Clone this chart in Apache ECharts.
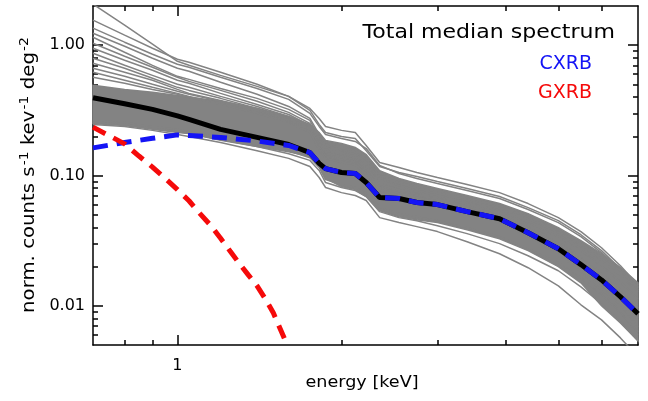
<!DOCTYPE html>
<html>
<head>
<meta charset="utf-8">
<script src="https://cdn.jsdelivr.net/npm/echarts@6/dist/echarts.min.js"></script>
<style>
  html, body { margin: 0; padding: 0; background: #fff; }
  #chart { width: 648px; height: 401px; }
</style>
</head>
<body>
<div id="chart"></div>
<script>
// energy grid [keV] shared by the spectra
const energy = [0.7, 0.8, 0.9, 1.0, 1.05, 1.2, 1.4, 1.6, 1.75, 1.82, 1.87, 2.0, 2.12, 2.22, 2.35, 2.55, 2.75, 3.0, 3.4, 3.9, 4.4, 5.0, 5.5, 6.0, 6.5, 7.0];

const median = [0.395, 0.355, 0.322, 0.287, 0.270, 0.226, 0.196, 0.173, 0.150, 0.124, 0.113, 0.1055, 0.1036, 0.0883, 0.0678, 0.0666, 0.0620, 0.0598, 0.0528, 0.0466, 0.0364, 0.0274, 0.0207, 0.0158, 0.01173, 0.00868];
const cxrb = [0.163, 0.179, 0.193, 0.205, 0.203, 0.196, 0.184, 0.170, 0.150, 0.124, 0.113, 0.1055, 0.1036, 0.0883, 0.0678, 0.0666, 0.0620, 0.0598, 0.0528, 0.0466, 0.0364, 0.0274, 0.0207, 0.0158, 0.01173, 0.00868];

const gxrbEnergy = [0.7, 0.8, 0.85, 0.9, 0.95, 1.0, 1.05, 1.1, 1.15, 1.2, 1.25, 1.3, 1.35, 1.4, 1.45, 1.5, 1.55, 1.59];
const gxrb = [0.235, 0.175, 0.141, 0.116, 0.095, 0.078, 0.064, 0.051, 0.0415, 0.033, 0.0262, 0.021, 0.0172, 0.0142, 0.0113, 0.0088, 0.0064, 0.0050];

// dense core of the individual field spectra
const bandHigh = [0.492, 0.458, 0.435, 0.412, 0.398, 0.371, 0.328, 0.284, 0.247, 0.214, 0.186, 0.176, 0.164, 0.145, 0.109, 0.0948, 0.0868, 0.0794, 0.0702, 0.0609, 0.0510, 0.0398, 0.0316, 0.0251, 0.0196, 0.0150];
const bandLow = [0.251, 0.242, 0.226, 0.214, 0.210, 0.186, 0.167, 0.152, 0.140, 0.119, 0.0948, 0.0823, 0.0780, 0.0690, 0.0538, 0.0483, 0.0458, 0.0435, 0.0384, 0.0327, 0.0265, 0.01995, 0.0150, 0.0100, 0.00739, 0.00538];

// individual field spectra
const fieldSpectra = [
  [2.067, 1.425, 1.018, 0.753, 0.701, 0.587, 0.483, 0.405, 0.327, 0.274, 0.238, 0.222, 0.214, 0.170, 0.126, 0.1153, 0.1055, 0.0965, 0.0853, 0.0739, 0.0609, 0.0475, 0.0371, 0.0279, 0.0203, 0.01446],
  [1.557, 1.194, 0.948, 0.780, 0.739, 0.620, 0.501, 0.405, 0.316, 0.2465, 0.214, 0.1995, 0.1925, 0.155, 0.1173, 0.1055, 0.0982, 0.0899, 0.0794, 0.0690, 0.0567, 0.0450, 0.0351, 0.0265, 0.01925, 0.0137],
  [1.352, 1.055, 0.853, 0.714, 0.678, 0.567, 0.466, 0.384, 0.300, 0.238, 0.2067, 0.1925, 0.1825, 0.161, 0.1195, 0.1036, 0.0948, 0.0868, 0.0766, 0.0666, 0.0548, 0.0435, 0.0339, 0.0256, 0.01857, 0.0133],
  [1.236, 0.982, 0.794, 0.666, 0.631, 0.519, 0.420, 0.339, 0.274, 0.2067, 0.179, 0.1667, 0.158, 0.1395, 0.1055, 0.0915, 0.0838, 0.0766, 0.0678, 0.0587, 0.0492, 0.0384, 0.0305, 0.0238, 0.01857, 0.01395],
  [1.152, 0.883, 0.701, 0.577, 0.547, 0.466, 0.391, 0.322, 0.2648, 0.196, 0.170, 0.158, 0.150, 0.1329, 0.1, 0.0868, 0.0794, 0.0727, 0.0643, 0.0557, 0.0466, 0.0364, 0.0284, 0.0222, 0.0170, 0.0128],
  [1.036, 0.823, 0.678, 0.567, 0.528, 0.450, 0.371, 0.305, 0.251, 0.189, 0.1637, 0.1525, 0.1446, 0.126, 0.0948, 0.0838, 0.0766, 0.0702, 0.0620, 0.0528, 0.0435, 0.0339, 0.0265, 0.0203, 0.01525, 0.01133],
  [0.948, 0.766, 0.643, 0.538, 0.510, 0.427, 0.351, 0.294, 0.242, 0.179, 0.155, 0.1446, 0.137, 0.1173, 0.0883, 0.078, 0.0727, 0.0666, 0.0587, 0.0501, 0.0405, 0.0310, 0.0238, 0.01793, 0.0133, 0.00965],
  [0.868, 0.701, 0.587, 0.501, 0.475, 0.405, 0.339, 0.284, 0.238, 0.170, 0.147, 0.137, 0.1306, 0.1113, 0.0838, 0.0753, 0.0702, 0.0643, 0.0567, 0.0483, 0.0384, 0.0289, 0.0218, 0.0161, 0.01173, 0.00823],
  [0.794, 0.666, 0.557, 0.475, 0.450, 0.391, 0.327, 0.274, 0.2297, 0.161, 0.1395, 0.1306, 0.1237, 0.1055, 0.0794, 0.0714, 0.0666, 0.0609, 0.0538, 0.0450, 0.0358, 0.0265, 0.0196, 0.0142, 0.01018, 0.0069],
  [0.727, 0.620, 0.538, 0.458, 0.427, 0.377, 0.322, 0.269, 0.2256, 0.155, 0.1353, 0.126, 0.1195, 0.1018, 0.0766, 0.0690, 0.0643, 0.0587, 0.0519, 0.0435, 0.0339, 0.0251, 0.01825, 0.01306, 0.00899, 0.00598],
  [0.666, 0.577, 0.501, 0.443, 0.420, 0.371, 0.316, 0.2648, 0.222, 0.175, 0.150, 0.140, 0.133, 0.115, 0.086, 0.077, 0.0715, 0.0655, 0.058, 0.0495, 0.0395, 0.030, 0.0226, 0.0168, 0.0122, 0.0087],
  [0.620, 0.538, 0.475, 0.427, 0.405, 0.358, 0.305, 0.260, 0.2176, 0.165, 0.142, 0.133, 0.127, 0.108, 0.081, 0.073, 0.068, 0.062, 0.055, 0.047, 0.0372, 0.0283, 0.0212, 0.0158, 0.0115, 0.0081],
  [0.567, 0.510, 0.458, 0.420, 0.398, 0.351, 0.300, 0.2556, 0.214, 0.158, 0.135, 0.127, 0.121, 0.103, 0.078, 0.070, 0.065, 0.060, 0.053, 0.045, 0.0355, 0.027, 0.0203, 0.0152, 0.0111, 0.0078],
  [0.2465, 0.238, 0.222, 0.2067, 0.1995, 0.179, 0.155, 0.1353, 0.1173, 0.0965, 0.0809, 0.0739, 0.0702, 0.0643, 0.0475, 0.0435, 0.0405, 0.0371, 0.0310, 0.0251, 0.0196, 0.0142, 0.01018, 0.0078, 0.00567, 0.00405],
  [0.2556, 0.2465, 0.2297, 0.2176, 0.2104, 0.189, 0.1667, 0.147, 0.1306, 0.1093, 0.0883, 0.0809, 0.0766, 0.0690, 0.0528, 0.0475, 0.0450, 0.0412, 0.0358, 0.0300, 0.0242, 0.01857, 0.01395, 0.01036, 0.00753, 0.00538],
  [0.2648, 0.2556, 0.238, 0.2256, 0.2176, 0.196, 0.176, 0.155, 0.137, 0.1153, 0.0931, 0.0853, 0.0809, 0.0727, 0.0567, 0.051, 0.0483, 0.0450, 0.0398, 0.0339, 0.0274, 0.0214, 0.01637, 0.01216, 0.00883, 0.00631]
];

const xMajorTicks = [1];
const xMinorTicks = [0.8, 0.9, 2, 3, 4, 5, 6];
const yMajorTicks = [0.01, 0.1, 1];
const yMinorTicks = [0.006, 0.007, 0.008, 0.009, 0.02, 0.03, 0.04, 0.05, 0.06, 0.07, 0.08, 0.09, 0.2, 0.3, 0.4, 0.5, 0.6, 0.7, 0.8, 0.9];

const font = 'DejaVu Sans';
const gray = '#838383';
const tickStyle = { color: '#000', width: 1.5 };
const frameLine = { show: true, lineStyle: { color: '#000', width: 1.5 } };

const pairs = (xs, ys) => xs.map((x, i) => [x, ys[i]]);

function logAxis(min, max, extra) {
  return Object.assign({
    type: 'log', logBase: 10, min, max,
    splitLine: { show: false },
    axisLine: { show: false },
    axisLabel: { show: false },
    axisTick: { show: false }
  }, extra);
}
const ticks = (values, length) => ({ show: true, inside: true, length, customValues: values, lineStyle: tickStyle });

const chart = echarts.init(document.getElementById('chart'));

const grayLines = fieldSpectra.map(row => ({
  type: 'line',
  data: pairs(energy, row),
  symbol: 'none',
  silent: true,
  lineStyle: { color: gray, width: 1.5 }
}));

chart.setOption({
  animation: false,
  backgroundColor: '#fff',
  grid: { left: 93, right: 10, top: 6, bottom: 56 },
  xAxis: [
    logAxis(0.7, 7, {
      position: 'bottom', axisLine: frameLine, axisTick: ticks(xMajorTicks, 10),
      axisLabel: { show: true, customValues: xMajorTicks, formatter: v => String(Math.round(v)), margin: 13, color: '#000', fontSize: 16, fontFamily: font }
    }),
    logAxis(0.7, 7, { position: 'bottom', axisTick: ticks(xMinorTicks, 5) }),
    logAxis(0.7, 7, { position: 'top', axisLine: frameLine, axisTick: ticks(xMajorTicks, 10) }),
    logAxis(0.7, 7, { position: 'top', axisTick: ticks(xMinorTicks, 5) })
  ],
  yAxis: [
    logAxis(0.005, 2, {
      position: 'left', axisLine: frameLine, axisTick: ticks(yMajorTicks, 10),
      axisLabel: { show: true, customValues: yMajorTicks, formatter: v => v.toFixed(2), margin: 8, color: '#000', fontSize: 16, fontFamily: font }
    }),
    logAxis(0.005, 2, { position: 'left', axisTick: ticks(yMinorTicks, 5) }),
    logAxis(0.005, 2, { position: 'right', axisLine: frameLine, axisTick: ticks(yMajorTicks, 10) }),
    logAxis(0.005, 2, { position: 'right', axisTick: ticks(yMinorTicks, 5) })
  ],
  graphic: [
    {
      type: 'text', x: 362, y: 383, scaleX: 1.1,
      style: { text: 'energy [keV]', font: '16px "DejaVu Sans"', fill: '#000', align: 'center', verticalAlign: 'middle' }
    },
    {
      type: 'text', x: 30, y: 175, rotation: Math.PI / 2, scaleX: 1.16,
      style: {
        text: 'norm. counts s{sup|-1} kev{sup|-1} deg{sup|-2}',
        font: '17px "DejaVu Sans"', fill: '#000', align: 'center', verticalAlign: 'middle',
        rich: {
          sup: { fontSize: 12, fontFamily: font, fill: '#000', verticalAlign: 'top', lineHeight: 23, padding: [0, 0, 9, 1] }
        }
      }
    },
    {
      type: 'text', x: 615, y: 33, scaleX: 1.16,
      style: { text: 'Total median spectrum', font: '19px "DejaVu Sans"', fill: '#000', align: 'right', verticalAlign: 'middle' }
    },
    {
      type: 'text', x: 592, y: 64,
      style: { text: 'CXRB', font: '19px "DejaVu Sans"', fill: '#1414f5', align: 'right', verticalAlign: 'middle' }
    },
    {
      type: 'text', x: 592, y: 93,
      style: { text: 'GXRB', font: '19px "DejaVu Sans"', fill: '#f50a0a', align: 'right', verticalAlign: 'middle' }
    }
  ],
  series: [
    {
      type: 'custom',
      silent: true,
      data: [[1, 0.1]],
      renderItem: (params, api) => {
        const top = energy.map((e, i) => api.coord([e, bandHigh[i]]));
        const bottom = energy.map((e, i) => api.coord([e, bandLow[i]])).reverse();
        return {
          type: 'polygon',
          shape: { points: top.concat(bottom) },
          style: { fill: gray, stroke: gray, lineWidth: 1.5 }
        };
      }
    },
    ...grayLines,
    {
      name: 'Total median spectrum', type: 'line', data: pairs(energy, median), symbol: 'none',
      lineStyle: { color: '#000', width: 5 }
    },
    {
      name: 'CXRB', type: 'line', data: pairs(energy, cxrb), symbol: 'none',
      lineStyle: { color: '#1414f5', width: 5, type: [15, 9] }
    },
    {
      name: 'GXRB', type: 'line', data: pairs(gxrbEnergy, gxrb), symbol: 'none',
      lineStyle: { color: '#f50a0a', width: 5, type: [14, 9] }
    }
  ]
});
</script>
</body>
</html>
